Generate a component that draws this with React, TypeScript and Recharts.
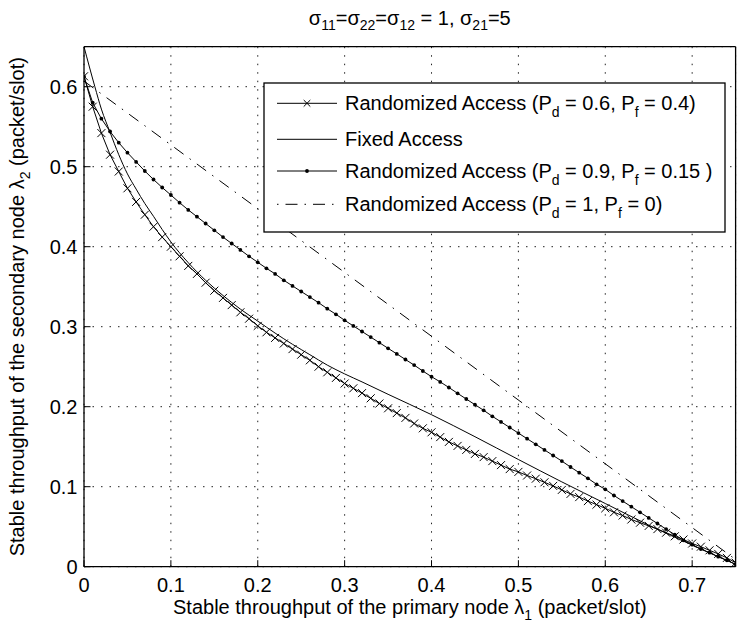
import React from 'react';
import { LineChart, Line, XAxis, YAxis, CartesianGrid } from 'recharts';

// ---------- data ----------
const X_TICKS = [0, 0.1, 0.2, 0.3, 0.4, 0.5, 0.6, 0.7];
const Y_TICKS = [0, 0.1, 0.2, 0.3, 0.4, 0.5, 0.6];

const GRID_X = [
  0, 0.01, 0.02, 0.03, 0.04, 0.05, 0.06, 0.07, 0.08, 0.09,
  0.1, 0.11, 0.12, 0.13, 0.14, 0.15, 0.16, 0.17, 0.18, 0.19,
  0.2, 0.21, 0.22, 0.23, 0.24, 0.25, 0.26, 0.27, 0.28, 0.29,
  0.3, 0.31, 0.32, 0.33, 0.34, 0.35, 0.36, 0.37, 0.38, 0.39,
  0.4, 0.41, 0.42, 0.43, 0.44, 0.45, 0.46, 0.47, 0.48, 0.49,
  0.5, 0.51, 0.52, 0.53, 0.54, 0.55, 0.56, 0.57, 0.58, 0.59,
  0.6, 0.61, 0.62, 0.63, 0.64, 0.65, 0.66, 0.67, 0.68, 0.69,
  0.7, 0.71, 0.72, 0.73, 0.74, 0.75,
];

// Randomized Access (Pd = 0.6, Pf = 0.4)  -- x markers
const RAND_06 = [
  0.613, 0.575, 0.542, 0.515, 0.494, 0.473, 0.456, 0.44, 0.425, 0.412,
  0.4, 0.388, 0.376, 0.366, 0.355, 0.345, 0.336, 0.327, 0.318, 0.31,
  0.301, 0.293, 0.286, 0.279, 0.272, 0.265, 0.258, 0.25, 0.243, 0.236,
  0.229, 0.223, 0.217, 0.2105, 0.204, 0.198, 0.192, 0.186, 0.179, 0.173,
  0.168, 0.162, 0.156, 0.151, 0.146, 0.141, 0.137, 0.132, 0.127, 0.122,
  0.1185, 0.114, 0.11, 0.1055, 0.101, 0.096, 0.091, 0.087, 0.082, 0.0776,
  0.073, 0.068, 0.064, 0.059, 0.055, 0.051, 0.047, 0.0425, 0.038, 0.034,
  0.029, 0.025, 0.0205, 0.016, 0.011, 0.005,
];

// Randomized Access (Pd = 0.9, Pf = 0.15) -- dot markers
const RAND_09 = [
  0.6125, 0.58, 0.56, 0.544, 0.53, 0.5175, 0.506, 0.4946, 0.484, 0.474,
  0.4646, 0.455, 0.446, 0.4375, 0.429, 0.4205, 0.412, 0.404, 0.396, 0.388,
  0.3805, 0.373, 0.366, 0.358, 0.351, 0.344, 0.337, 0.33, 0.3225, 0.3155,
  0.308, 0.301, 0.294, 0.287, 0.28, 0.273, 0.266, 0.259, 0.252, 0.2446,
  0.2375, 0.231, 0.224, 0.2167, 0.2096, 0.2025, 0.1955, 0.188, 0.181, 0.174,
  0.167, 0.16, 0.153, 0.146, 0.139, 0.132, 0.1246, 0.1175, 0.1105, 0.103,
  0.0967, 0.089, 0.082, 0.075, 0.068, 0.061, 0.054, 0.047, 0.04, 0.033,
  0.0275, 0.022, 0.0175, 0.0125, 0.008, 0.003,
];

// Fixed Access -- plain line
const FIXED_X = [
  0, 0.0125, 0.02, 0.03, 0.04, 0.05, 0.06, 0.07, 0.08, 0.09,
  0.1, 0.12, 0.14, 0.16, 0.18, 0.2, 0.22, 0.24, 0.26, 0.28,
  0.3, 0.32, 0.35, 0.4, 0.45, 0.5, 0.55, 0.6, 0.65, 0.7, 0.75,
];
const FIXED_Y = [
  0.65, 0.6, 0.572, 0.543, 0.515, 0.491, 0.472, 0.454, 0.438, 0.4215,
  0.406, 0.38, 0.358, 0.339, 0.322, 0.307, 0.292, 0.278, 0.265, 0.252,
  0.241, 0.231, 0.2155, 0.19, 0.1625, 0.134, 0.106, 0.079, 0.052, 0.027, 0.003,
];

// Randomized Access (Pd = 1, Pf = 0) -- dash-dot straight line
const PERFECT_X = [0, 0.75];
const PERFECT_Y = [0.607, 0.009];

// ---------- layout ----------
const W = 740;
const H = 629;
const PLOT_LEFT = 84;
const PLOT_RIGHT = 735.6;
const PLOT_TOP = 46.7;
const PLOT_BOTTOM = 566.7;
const FONT = '"Liberation Sans", Arial, Helvetica, sans-serif';
const FS = 20;
const SUB = 14;
const DASHDOT = '11.5 7.5 1.5 7.5';

const zip = (xs: number[], ys: number[]) => xs.map((x, i) => ({ x, y: ys[i] }));

const renderX = (p: any) => {
  const { cx, cy, index } = p;
  if (cx == null || cy == null) return <g key={`xm${index}`} />;
  const s = 4;
  return (
    <path
      key={`xm${index}`}
      d={`M${cx - s},${cy - s}L${cx + s},${cy + s}M${cx - s},${cy + s}L${cx + s},${cy - s}`}
      stroke="#000"
      strokeWidth={1}
      fill="none"
    />
  );
};

const renderDot = (p: any) => {
  const { cx, cy, index } = p;
  if (cx == null || cy == null) return <g key={`dm${index}`} />;
  return <circle key={`dm${index}`} cx={cx} cy={cy} r={1.9} fill="#000" stroke="none" />;
};

type Part = [string, boolean?];
const Rich = ({ parts, shift = 6 }: { parts: Part[]; shift?: number }) => {
  let cur = 0;
  return (
    <>
      {parts.map(([t, sub], i) => {
        const target = sub ? shift : 0;
        const dy = target - cur;
        cur = target;
        return (
          <tspan key={i} dy={dy} fontSize={sub ? SUB : FS}>
            {t}
          </tspan>
        );
      })}
    </>
  );
};

const LEGEND_ROWS: { parts: Part[]; kind: string }[] = [
  {
    kind: 'x',
    parts: [['Randomized Access (P'], ['d', true], [' = 0.6, P'], ['f', true], [' = 0.4)']],
  },
  { kind: 'plain', parts: [['Fixed Access']] },
  {
    kind: 'dot',
    parts: [['Randomized Access (P'], ['d', true], [' = 0.9, P'], ['f', true], [' = 0.15 )']],
  },
  {
    kind: 'dashdot',
    parts: [['Randomized Access (P'], ['d', true], [' = 1, P'], ['f', true], [' = 0)']],
  },
];

export default function App() {
  const d06 = zip(GRID_X, RAND_06);
  const d09 = zip(GRID_X, RAND_09);
  const dFixed = zip(FIXED_X, FIXED_Y);
  const dPerfect = zip(PERFECT_X, PERFECT_Y);

  const legendBox = { x: 264, y: 83, w: 461, h: 149 };
  const rowY = [103.3, 139.3, 171, 204.3];

  return (
    <div
      style={{
        position: 'absolute',
        left: 0,
        top: 0,
        width: W,
        height: H,
        background: '#fff',
        fontFamily: FONT,
      }}
    >
      <LineChart
        width={W}
        height={H}
        margin={{ top: PLOT_TOP - 10, right: 0, bottom: 0, left: 0 }}
      >
        <CartesianGrid
          xAxisId="b"
          yAxisId="l"
          stroke="#222"
          strokeWidth={1}
          strokeDasharray="1.5 7"
        />
        <XAxis
          xAxisId="b"
          type="number"
          dataKey="x"
          orientation="bottom"
          domain={[0, 0.75]}
          allowDataOverflow
          ticks={X_TICKS}
          interval={0}
          height={H - PLOT_BOTTOM}
          tickSize={-6.5}
          tickMargin={17.8}
          axisLine={{ stroke: '#000', strokeWidth: 1.3 }}
          tickLine={{ stroke: '#000', strokeWidth: 1 }}
          tick={{ fill: '#000', fontSize: FS, fontFamily: FONT }}
        />
        <XAxis
          xAxisId="t"
          type="number"
          dataKey="x"
          orientation="top"
          domain={[0, 0.75]}
          allowDataOverflow
          ticks={X_TICKS}
          interval={0}
          height={10}
          tickSize={-6.5}
          axisLine={{ stroke: '#000', strokeWidth: 1.3 }}
          tickLine={{ stroke: '#000', strokeWidth: 1 }}
          tick={false}
        />
        <YAxis
          yAxisId="l"
          type="number"
          orientation="left"
          domain={[0, 0.65]}
          allowDataOverflow
          ticks={Y_TICKS}
          interval={0}
          width={PLOT_LEFT}
          tickSize={-6.5}
          tickMargin={13}
          axisLine={{ stroke: '#000', strokeWidth: 1.3 }}
          tickLine={{ stroke: '#000', strokeWidth: 1 }}
          tick={{ fill: '#000', fontSize: FS, fontFamily: FONT }}
        />
        <YAxis
          yAxisId="r"
          type="number"
          orientation="right"
          domain={[0, 0.65]}
          allowDataOverflow
          ticks={Y_TICKS}
          interval={0}
          width={W - PLOT_RIGHT}
          tickSize={-6.5}
          axisLine={{ stroke: '#000', strokeWidth: 1.3 }}
          tickLine={{ stroke: '#000', strokeWidth: 1 }}
          tick={false}
        />
        <Line
          xAxisId="b"
          yAxisId="l"
          data={dPerfect}
          dataKey="y"
          type="linear"
          stroke="#000"
          strokeWidth={1}
          strokeDasharray={DASHDOT}
          dot={false}
          activeDot={false}
          isAnimationActive={false}
        />
        <Line
          xAxisId="b"
          yAxisId="l"
          data={dFixed}
          dataKey="y"
          type="monotone"
          stroke="#000"
          strokeWidth={1}
          dot={false}
          activeDot={false}
          isAnimationActive={false}
        />
        <Line
          xAxisId="b"
          yAxisId="l"
          data={d09}
          dataKey="y"
          type="linear"
          stroke="#000"
          strokeWidth={1}
          dot={renderDot}
          activeDot={false}
          isAnimationActive={false}
        />
        <Line
          xAxisId="b"
          yAxisId="l"
          data={d06}
          dataKey="y"
          type="linear"
          stroke="#000"
          strokeWidth={1}
          dot={renderX}
          activeDot={false}
          isAnimationActive={false}
        />
      </LineChart>

      <svg
        width={W}
        height={H}
        style={{ position: 'absolute', left: 0, top: 0, pointerEvents: 'none' }}
        fontFamily={FONT}
      >
        {/* title */}
        <text x={(PLOT_LEFT + PLOT_RIGHT) / 2} y={25} textAnchor="middle" fontSize={FS} fill="#000">
          <Rich
            shift={5}
            parts={[
              ['σ'], ['11', true], ['=σ'], ['22', true], ['=σ'], ['12', true], [' = 1, σ'], ['21', true], ['=5'],
            ]}
          />
        </text>

        {/* x label */}
        <text x={(PLOT_LEFT + PLOT_RIGHT) / 2} y={614} textAnchor="middle" fontSize={FS} fill="#000">
          <Rich
            shift={6}
            parts={[['Stable throughput of the primary node λ'], ['1', true], [' (packet/slot)']]}
          />
        </text>

        {/* y label */}
        <text
          transform="rotate(-90)"
          x={-(PLOT_TOP + PLOT_BOTTOM) / 2}
          y={24}
          textAnchor="middle"
          fontSize={FS}
          fill="#000"
        >
          <Rich
            shift={6}
            parts={[['Stable throughput of the secondary node λ'], ['2', true], [' (packet/slot)']]}
          />
        </text>

        {/* legend */}
        <rect
          x={legendBox.x}
          y={legendBox.y}
          width={legendBox.w}
          height={legendBox.h}
          fill="#fff"
          stroke="#000"
          strokeWidth={1.3}
        />
        {LEGEND_ROWS.map((r, i) => {
          const cy = rowY[i];
          const x1 = 277;
          const x2 = 337;
          const mx = (x1 + x2) / 2;
          return (
            <g key={i}>
              <line
                x1={x1}
                x2={x2}
                y1={cy}
                y2={cy}
                stroke="#000"
                strokeWidth={1}
                strokeDasharray={r.kind === 'dashdot' ? '1.5 7 12 7' : undefined}
              />
              {r.kind === 'x' && (
                <path
                  d={`M${mx - 3.3},${cy - 3.3}L${mx + 3.3},${cy + 3.3}M${mx - 3.3},${cy + 3.3}L${mx + 3.3},${cy - 3.3}`}
                  stroke="#000"
                  strokeWidth={1}
                />
              )}
              {r.kind === 'dot' && <circle cx={mx} cy={cy} r={1.9} fill="#000" />}
              <text x={345} y={cy + 7} fontSize={FS} fill="#000">
                <Rich parts={r.parts} shift={7} />
              </text>
            </g>
          );
        })}
      </svg>
    </div>
  );
}
